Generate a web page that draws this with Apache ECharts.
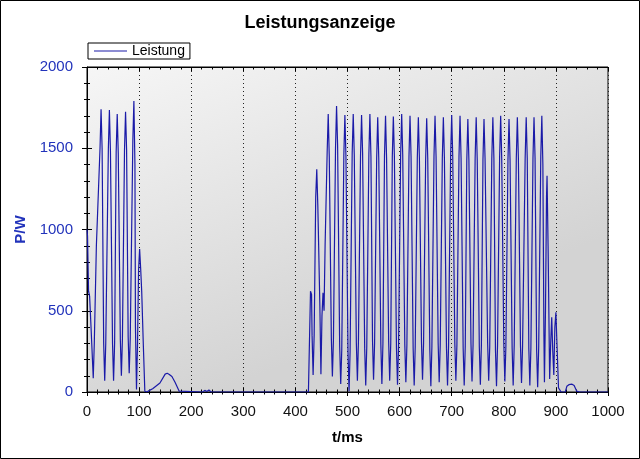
<!DOCTYPE html>
<html><head><meta charset="utf-8">
<script src="https://cdn.jsdelivr.net/npm/echarts@6/dist/echarts.min.js"></script>
<style>html,body{margin:0;padding:0;background:#fff}#c{width:640px;height:459px}</style>
</head><body><div id="c"></div>
<script>
// [t in ms, Leistung in W]
const burst1 = [[0,1000],[1,960],[3,620],[5,590],[8,380],[12,85],[14,300],[18,900],[25,1500],[27,1740],[29,1500],
  [32,300],[34,70],[36,300],[41,1500],[43,1735],[45,1480],[49,300],[51,70],[53,300],[56,1480],[58,1710],[60,1470],
  [64,320],[66,100],[68,330],[72,1490],[74,1725],[76,1490],[79,340],[81,115],[83,330],[88,1550],[90,1790],[92,1400],
  [93,400],[95,15],[97,300],[99,750],[101,880],[103,760],[105,620],[108,300],[111,5]];
const bump1 = [[115,0],[120,10],[126,20],[140,55],[150,110],[154,115],[158,108],[163,95],[169,60],[177,5],[180,0]];
const idle = [[222,0],[226,10],[230,3],[234,12],[238,0],[425,0]];
const burst2 = [[427,10],[429,620],[431,600],[432,350],[434,105],[436,350],[439,1200],[441,1370],[443,1150],[444,1000],
  [447,520],[449,110],[451,470],[453,610],[455,500],[457,900],[461,1480],
  [463,1710],[465,1450],[469,330],[471,95],[473,320],[477,1500],[479,1760],[481,1520],[485,280],[487,50],[489,260],
  [493,1460],[495,1705],[497,1450],[501,240],[503,5],[505,250],[509,1470],[511,1710],[513,1460],[517,300],[519,70],
  [521,310],[525,1450],[527,1705],[529,1470],[533,270],[535,40],[537,280],[541,1460],[543,1710],[545,1450],[548,320],
  [550,75],[552,300],[556,1440],[558,1690],[560,1440],[564,290],[566,50],[568,300],[571,1450],[573,1700],[575,1440],
  [579,310],[581,70],[583,300],[586,1450],[588,1695],[590,1450],[594,270],[596,45],[598,280],[602,1460],[604,1710],
  [606,1460],[610,290],[612,60],[614,290],[618,1450],[620,1700],[622,1450],[626,270],[628,40],[630,280],[634,1440],
  [636,1690],[638,1440],[642,310],[644,75],[646,300],[650,1430],[652,1685],[654,1440],[658,260],[660,35],[662,280],
  [666,1450],[668,1700],[670,1450],[674,300],[676,60],[678,290],[682,1440],[684,1690],[686,1440],[690,270],[692,40],
  [694,290],[698,1460],[700,1705],[702,1450],[706,300],[708,70],[710,290],[714,1450],[716,1700],[718,1440],[722,270],
  [724,40],[726,280],[729,1430],[731,1680],[733,1430],[737,300],[739,65],[741,290],[745,1440],[747,1690],[749,1430],
  [753,280],[755,45],[757,290],[760,1430],[762,1680],[764,1440],[769,300],[771,70],[773,280],[777,1440],[779,1690],
  [781,1440],[784,260],[786,35],[788,290],[792,1450],[794,1700],[796,1440],[800,300],[802,65],[804,280],[808,1430],
  [810,1680],[812,1430],[816,270],[818,40],[820,290],[824,1440],[826,1690],[828,1440],[832,290],[834,55],[836,280],
  [841,1440],[843,1690],[845,1440],[848,270],[850,40],[852,270],[856,1440],[858,1690],[860,1440],[863,260],[865,30],
  [867,280],[871,1450],[873,1700],[875,1400],[877,350],[878,60],[880,500],[882,1200],[883,1330],[885,900],[888,80],
  [890,300],[892,460],[894,250],[896,105],[898,400],[900,490],[902,300],[905,25]];
const tail = [[910,0],[918,0],[921,35],[925,45],[928,35],[931,48],[935,40],[940,5],[945,0],[1000,0]];
const xTicks = [0,100,200,300,400,500,600,700,800,900,1000];
const yTicks = [0,500,1000,1500,2000];
const seriesName = 'Leistung';
const titleText = 'Leistungsanzeige';
const xName = 't/ms';
const yName = 'P/W';

const FONT = "Arial, 'Liberation Sans', sans-serif";
const lineColor = '#1a1aa8';
const xMin = xTicks[0], xMax = xTicks[xTicks.length-1], xInt = xTicks[1]-xTicks[0];
const yMin = yTicks[0], yMax = yTicks[yTicks.length-1], yInt = yTicks[1]-yTicks[0];
const seriesData = [].concat(burst1, bump1, idle, burst2, tail);

function xAx(extra){
  return Object.assign({type:'value', min:xMin, max:xMax, interval:xInt, gridIndex:0,
    axisLine:{show:false}, axisLabel:{show:false}, splitLine:{show:false},
    axisTick:{show:true, length:4, lineStyle:{color:'#000'}},
    minorTick:{show:true, splitNumber:5, length:2.5, lineStyle:{color:'#000'}}}, extra);
}
function yAx(extra){
  return Object.assign({type:'value', min:yMin, max:yMax, interval:yInt, gridIndex:0,
    axisLine:{show:false}, axisLabel:{show:false}, splitLine:{show:false},
    axisTick:{show:true, length:5, lineStyle:{color:'#000'}},
    minorTick:{show:true, splitNumber:5, length:3, lineStyle:{color:'#000'}}}, extra);
}

const chart = echarts.init(document.getElementById('c'), null, {renderer:'canvas'});
chart.setOption({
  animation:false,
  backgroundColor:'#fff',
  textStyle:{fontFamily:FONT},
  title:{text:titleText, left:'center', top:9,
    textStyle:{fontFamily:FONT, fontSize:18, fontWeight:'bold', color:'#000'}},
  legend:{data:[seriesName], left:88, top:43, icon:'rect', itemWidth:33, itemHeight:1,
    borderColor:'#000', borderWidth:1, padding:[1,5,1,6], backgroundColor:'#fff',
    textStyle:{fontFamily:FONT, fontSize:14, color:'#000'}},
  grid:{show:true, left:87, right:32, top:67, bottom:67,
    backgroundColor:new echarts.graphic.LinearGradient(0,0,0.25,1,[{offset:0,color:'#f6f6f6'},{offset:1,color:'#d3d3d3'}]),
    borderColor:'#000', borderWidth:1},
  xAxis:[
    xAx({position:'bottom', axisLine:{show:true, lineStyle:{color:'#000'}},
      axisTick:{show:true, inside:false, length:4, lineStyle:{color:'#000'}},
      axisLabel:{show:true, margin:12, fontFamily:FONT, fontSize:15, color:'#111', formatter:v=>String(v)},
      splitLine:{show:true, lineStyle:{type:[1,3], color:'#222', width:1}},
      name:xName, nameLocation:'middle', nameGap:38,
      nameTextStyle:{fontFamily:FONT, fontSize:15, fontWeight:'bold', color:'#000'}}),
    xAx({position:'bottom', axisTick:{show:true, inside:true, length:4, lineStyle:{color:'#000'}}}),
    xAx({position:'top', axisLine:{show:true, lineStyle:{color:'#000'}},
      axisTick:{show:true, inside:true, length:4, lineStyle:{color:'#000'}}})
  ],
  yAxis:[
    yAx({position:'left', axisLine:{show:true, lineStyle:{color:'#000'}},
      axisTick:{show:true, inside:false, length:5, lineStyle:{color:'#000'}},
      axisLabel:{show:true, margin:14, fontFamily:FONT, fontSize:15, color:'#2233bb', formatter:v=>String(v)},
      name:yName, nameLocation:'middle', nameGap:58, nameRotate:90,
      nameTextStyle:{fontFamily:FONT, fontSize:15, fontWeight:'bold', color:'#2233bb'}}),
    yAx({position:'left', axisTick:{show:true, inside:true, length:5, lineStyle:{color:'#000'}}})
  ],
  graphic:[{type:'rect', silent:true, z:100, shape:{x:0.5,y:0.5,width:639,height:458},
    style:{fill:'none', stroke:'#000', lineWidth:1}}],
  series:[{name:seriesName, type:'line', xAxisIndex:0, yAxisIndex:0, showSymbol:false, symbol:'none',
    lineStyle:{width:1.2, color:lineColor}, itemStyle:{color:lineColor}, z:5,
    data:seriesData}]
});
</script></body></html>
